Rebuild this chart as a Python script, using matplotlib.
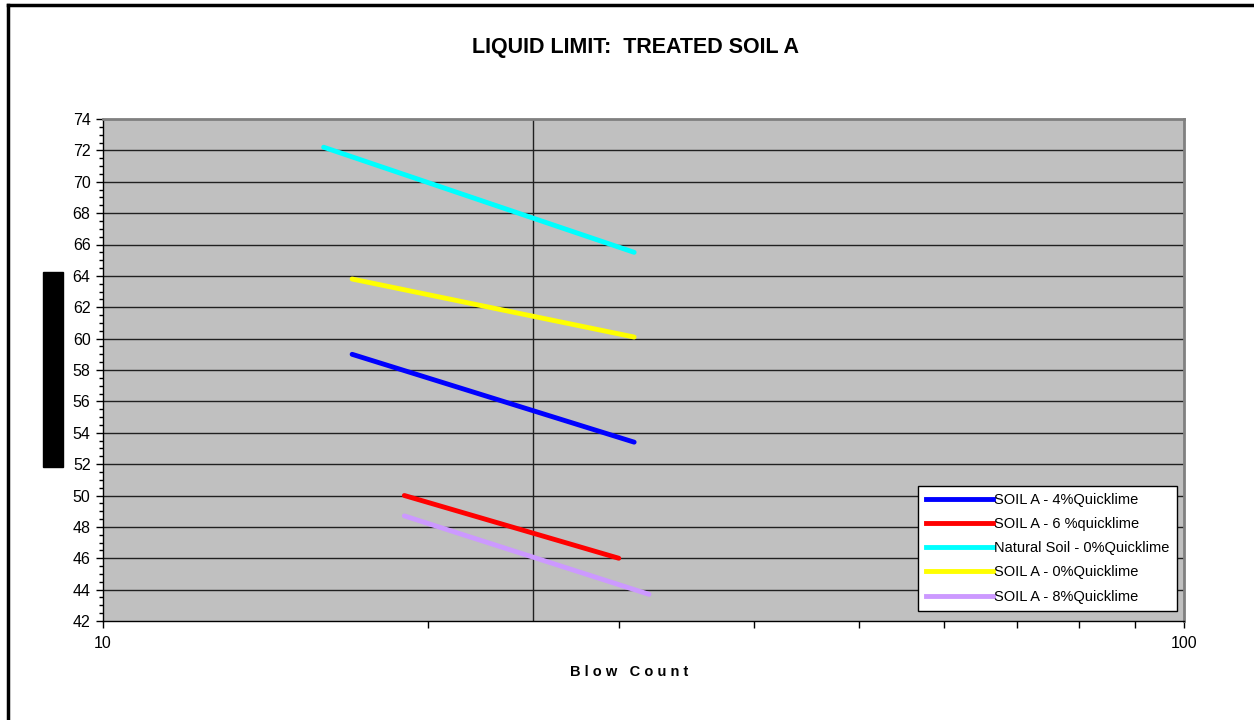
import matplotlib.pyplot as plt
from matplotlib.patches import Rectangle
from matplotlib.lines import Line2D
from matplotlib.ticker import FixedLocator, NullFormatter, MultipleLocator

plt.rcParams['font.family'] = ['Liberation Sans', 'DejaVu Sans']

# flow curves: blow count vs water content (end points of each fitted line)
labels = ['SOIL A - 4%Quicklime', 'SOIL A - 6 %quicklime',
          'Natural Soil - 0%Quicklime', 'SOIL A - 0%Quicklime',
          'SOIL A - 8%Quicklime']
colors = ['#0000FF', '#FF0000', '#00FFFF', '#FFFF00', '#CC99FF']
blows = [[17, 31], [19, 30], [16, 31], [17, 31], [19, 32]]
water = [[59.0, 53.4], [50.0, 46.0], [72.2, 65.5], [63.8, 60.1], [48.7, 43.7]]

fig = plt.figure(figsize=(12.54, 7.2), dpi=100)
ax = fig.add_axes([103 / 1254, 99 / 720, 1081 / 1254, 502 / 720])
ax.set_facecolor('#C0C0C0')

for x, y, c in zip(blows, water, colors):
    ax.plot(x, y, color=c, lw=3.5, solid_capstyle='round', zorder=3)

ax.set_xscale('log')
ax.set_xlim(10, 100)
ax.set_ylim(42, 74)
ax.set_xticks([10, 100])
ax.set_xticklabels(['10', '100'])
ax.xaxis.set_minor_locator(FixedLocator([20, 30, 40, 50, 60, 70, 80, 90]))
ax.xaxis.set_minor_formatter(NullFormatter())
ax.yaxis.set_major_locator(MultipleLocator(2))
ax.yaxis.set_minor_locator(MultipleLocator(0.5))
ax.tick_params(axis='both', which='major', length=5, width=1, labelsize=11.5, direction='out')
ax.tick_params(axis='y', which='minor', length=3, width=1, direction='out')
ax.tick_params(axis='x', which='minor', length=5, width=1, direction='out')
ax.tick_params(axis='x', which='major', pad=6)
ax.tick_params(axis='y', which='major', pad=4)

for yv in range(44, 74, 2):
    ax.axhline(yv, color='#202020', lw=1, zorder=1)
ax.axvline(25, color='#202020', lw=1, zorder=1)

for s in ['top', 'right']:
    ax.spines[s].set_color('#808080')
    ax.spines[s].set_linewidth(2)
for s in ['left', 'bottom']:
    ax.spines[s].set_color('black')
    ax.spines[s].set_linewidth(1)

fig.text(636 / 1254, 1 - 48 / 720, 'LIQUID LIMIT:  TREATED SOIL A',
         ha='center', va='center', fontsize=15.5, fontweight='bold')
fig.text(629 / 1254, 1 - 672 / 720, 'B l o w   C o u n t',
         ha='center', va='center', fontsize=10.5, fontweight='bold')

# redacted y label block
fig.patches.append(Rectangle((43 / 1254, 1 - 467 / 720), 20 / 1254, 195 / 720,
                             transform=fig.transFigure, color='black'))
# outer frame (top and left edges visible)
fig.add_artist(Line2D([8 / 1254, 8 / 1254], [0, 1 - 5 / 720],
                      transform=fig.transFigure, color='black', lw=2.5))
fig.add_artist(Line2D([8 / 1254, 1], [1 - 5 / 720, 1 - 5 / 720],
                      transform=fig.transFigure, color='black', lw=2.5))

handles = [Line2D([0], [0], color=c, lw=3.5) for c in colors]
leg = ax.legend(handles, labels, loc='lower right', bbox_to_anchor=(0.9935, 0.02),
                fontsize=10.5, frameon=True, fancybox=False, framealpha=1,
                edgecolor='black', handlelength=4.6, handletextpad=0.1,
                labelspacing=0.7, borderpad=0.5, borderaxespad=0)
leg.get_frame().set_linewidth(1)

fig.savefig('out.png', dpi=100)
